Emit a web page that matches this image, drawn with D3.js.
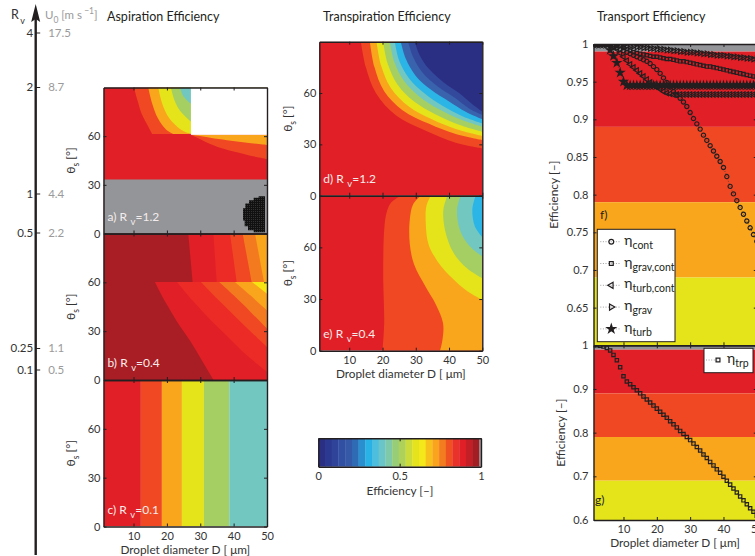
<!DOCTYPE html>
<html><head><meta charset="utf-8">
<script src="https://cdn.jsdelivr.net/npm/d3@7"></script>
<style>
body{margin:0;background:#fff;}
svg{display:block;font-family:Lato,"Open Sans",sans-serif;}
</style></head><body>
<svg id="c" width="755" height="556"></svg>
<script>
// ---------- data ----------
const diameters = [1,2,3,4,5,6,7,8,9,10,11,12,13,14,15,16,17,18,19,20,21,22,23,24,25,26,27,28,29,30,31,32,33,34,35,36,37,38,39,40,41,42,43,44,45,46,47,48,49,50];
const etaCont = [1,1,1,1,0.999,0.998,0.997,0.995,0.993,0.991,0.989,0.987,0.985,0.983,0.981,0.979,0.977,0.974,0.970,0.966,0.961,0.955,0.949,0.943,0.937,0.932,0.928,0.923,0.917,0.909,0.901,0.894,0.887,0.879,0.872,0.865,0.858,0.851,0.844,0.836,0.824,0.811,0.801,0.792,0.783,0.774,0.765,0.756,0.747,0.738];
const etaGravCont = [1,1,1,1,1,1,0.999,0.998,0.997,0.995,0.993,0.991,0.989,0.988,0.987,0.986,0.985,0.984,0.983,0.983,0.982,0.981,0.980,0.980,0.979,0.978,0.977,0.977,0.976,0.975,0.974,0.973,0.972,0.971,0.970,0.970,0.969,0.968,0.967,0.966,0.965,0.964,0.963,0.962,0.961,0.960,0.959,0.958,0.957,0.956];
const etaTurbCont = [1,1,1,1,1,0.999,0.997,0.993,0.988,0.983,0.978,0.973,0.969,0.965,0.961,0.957,0.953,0.949,0.946,0.943,0.940,0.937,0.935,0.934,0.933,0.933,0.933,0.933,0.933,0.933,0.933,0.933,0.933,0.933,0.933,0.933,0.933,0.933,0.933,0.933,0.933,0.933,0.933,0.933,0.933,0.933,0.933,0.933,0.933,0.933];
const etaGrav = [1,1,1,1,1,1,0.999,0.999,0.998,0.998,0.997,0.997,0.997,0.996,0.996,0.995,0.995,0.994,0.994,0.993,0.993,0.993,0.992,0.992,0.991,0.991,0.990,0.990,0.989,0.989,0.989,0.988,0.988,0.987,0.987,0.986,0.986,0.985,0.985,0.985,0.984,0.984,0.983,0.983,0.982,0.982,0.981,0.981,0.980,0.980];
const etaTurb = [1,1,1,1,1,0.992,0.984,0.975,0.962,0.950,0.945,0.945,0.945,0.945,0.945,0.945,0.945,0.945,0.945,0.945,0.945,0.945,0.945,0.945,0.945,0.945,0.945,0.945,0.945,0.945,0.945,0.945,0.945,0.945,0.945,0.945,0.945,0.945,0.945,0.945,0.945,0.945,0.945,0.945,0.945,0.945,0.945,0.945,0.945,0.945];
const etaTrp = [1,1,0.999,0.997,0.994,0.988,0.978,0.966,0.950,0.929,0.917,0.911,0.904,0.897,0.890,0.883,0.876,0.869,0.862,0.855,0.848,0.841,0.834,0.826,0.819,0.812,0.804,0.797,0.790,0.783,0.775,0.767,0.759,0.750,0.742,0.733,0.725,0.716,0.708,0.699,0.690,0.681,0.672,0.663,0.654,0.645,0.636,0.627,0.619,0.610];

const diamTicks = [10,20,30,40,50];
const thetaTicks = [0,30,60];
const effTicksF = [0.65,0.7,0.75,0.8,0.85,0.9,0.95,1];
const effTicksG = [0.6,0.7,0.8,0.9,1];
const cbTicks = [0,0.5,1];

const rvTicks = [4,2,1,0.5,0.25,0.1];
const u0Labels = ['17.5','8.7','4.4','2.2','1.1','0.5'];

// efficiency classes used for the shaded backgrounds (lower, upper bound)
const classBounds = [[0.99,1.0],[0.89,0.99],[0.79,0.89],[0.69,0.79],[0.5,0.69]];

// ---------- colours ----------
const INK = '#231f20', GREY = '#939598', LAB = '#333';
const C = {
  dred:'#a91e24', red:'#e11f26', red2:'#ec2a26', orr:'#ef4823', or2:'#f47a20',
  ora:'#f9a61c', yel:'#e5e31a', yel2:'#f6e512', grn:'#a5cf62', tea:'#72c7c1',
  cya:'#2bb5e7', blu:'#3a63ad', blu2:'#334a9c', nav:'#2b2f84'
};
const classColors = [GREY, C.red, C.orr, C.ora, C.yel];
const cbColors = ['#2a2f84','#2c3990','#2f4499','#3250a2','#3558a7','#2f6bb4','#2a8fcf','#28b2e6','#4dbedd','#6ac5c8','#80c9a8','#98cd78','#aed15a','#cbdb3b','#e4e31c','#f4e81a','#f8c01c','#f9a41c','#f47c20','#ef5123','#e8322a','#e11f26','#c31f26','#a31e23'];

// ---------- contour boundaries, [D, theta] ----------
// a) aspiration, Rv = 1.2
const aBands = [
  {c:C.orr, pts:[[10.1,90],[11.2,82],[12.4,74],[14.4,66],[15.6,61.3]]},
  {c:C.ora, pts:[[14.4,90],[15.6,80],[17.3,71],[19.8,64],[22,61.3]]},
  {c:C.yel, pts:[[17.4,90],[18.6,80],[20.4,72],[23,66],[25.5,62.5],[27.2,61.5]]},
  {c:C.grn, pts:[[21.2,90],[22.3,82],[24,75.5],[27.2,69]]},
  {c:C.tea, pts:[[23.9,90],[25,84.5],[27.2,80]]},
  {c:C.orr, pts:[[27.2,60.8],[31,57],[35,53.5],[40,50.5],[45,48],[50,45.9]]},
  {c:C.ora, pts:[[27.2,60.8],[33,59],[38,57.5],[44,56],[50,54.6]]}
];
const aGreyTop = 33.3;
const aBlank = [[27.2,60.8],[50,90]];
const aBlob = [[49.2,23],[47.5,22],[46,20.5],[44.6,18.5],[43.5,15.5],[42.8,12],[42.8,8],[43.3,4.5],[44.3,2],[46,0.8],[49.4,0.8],[49.4,23]];
// b) aspiration, Rv = 0.4
const bBands = [
  {c:C.red,  pts:[[26.4,90],[27.7,60.2]]},
  {c:C.red2, pts:[[33.9,90],[34.9,60.2]]},
  {c:C.orr,  pts:[[38.9,90],[40.9,60.2]]},
  {c:C.or2,  pts:[[42.7,90],[45.4,60.2]]},
  {c:C.ora,  pts:[[46.4,90],[49.1,60.2]]},
  {c:C.red,  pts:[[16.4,60.2],[19.5,48],[23,36],[27,24],[30.5,12],[34,0]]},
  {c:C.red2, pts:[[23,60.2],[28,48],[33,37],[38.5,26],[44,15],[50,4.9]]},
  {c:C.orr,  pts:[[30.2,60.2],[35,50],[40,40],[45,30],[50,20.3]]},
  {c:C.or2,  pts:[[35.7,60.2],[40,52],[45,42],[50,31.5]]},
  {c:C.ora,  pts:[[40.4,60.2],[45,52],[50,42.8]]},
  {c:C.yel2, pts:[[45.5,60.2],[50,53]]}
];
// c) aspiration, Rv = 0.1 : class edges along D
const cEdges = [1,12.2,18.5,24.5,31.1,38.7,50];
const cColors = [C.red,C.orr,C.ora,C.yel,C.grn,C.tea];
// d) transpiration, Rv = 1.2
const dBands = [
  {c:C.orr, pts:[[13.5,90],[15,75],[18,60],[24,47],[33,38],[42,31],[50,27.7]]},
  {c:C.ora, pts:[[16.2,90],[17.6,75],[20.5,61],[26,50],[34,42],[42,36],[50,32.5]]},
  {c:C.yel, pts:[[18.2,90],[19.6,76],[22.5,63],[28,52],[35,44.5],[42,39],[50,34.9]]},
  {c:C.grn, pts:[[20.2,90],[21.6,77],[24.5,65],[29.5,55],[36,47.5],[43,41.5],[50,37.4]]},
  {c:C.tea, pts:[[22.2,90],[23.6,78],[26.5,67],[31,58],[37,50.5],[43.5,44.5],[50,40.3]]},
  {c:C.cya, pts:[[23.7,90],[25,79],[28,68.5],[32.5,60],[38,52.5],[44,46.5],[50,42.3]]},
  {c:C.blu, pts:[[25.5,90],[27,80],[30,70],[34.5,62],[40,55],[45,49],[50,44.6]]},
  {c:C.blu2,pts:[[27.7,90],[29.2,81],[32,72],[36.5,64],[41.5,57.5],[46,51],[50,47.2]]},
  {c:C.nav, pts:[[29.7,90],[31.2,82],[34,74],[38.5,66],[43,60],[47,53.5],[50,49.1]]}
];
// e) transpiration, Rv = 0.4
const eBands = [
  {c:C.orr, pts:[[25.5,90],[22.6,86],[21.2,80],[20.5,70],[20.2,45],[20.5,16],[20,0]]},
  {c:C.ora, pts:[[31.5,90],[29.2,85],[28.2,76],[28.2,62],[29.5,50],[33,37],[36,27],[38.2,16],[38,6],[37.3,0]]},
  {c:C.yel, pts:[[34.5,90],[33.2,84],[33,74],[33.8,62],[36.5,52],[41,42],[45.5,34.5],[50,29.5]]},
  {c:C.grn, pts:[[39.5,90],[38.3,82],[38.8,70],[41.3,57],[45.3,48],[50,42]]},
  {c:C.tea, pts:[[43.5,90],[42.4,82],[43.3,70],[46.3,60.5],[50,54.7]]},
  {c:C.cya, pts:[[48,90],[47,82],[47.8,72],[50,66]]}
];

// ---------- scales ----------
const svg = d3.select('#c');
const xL = d3.scaleLinear().domain([1,50]).range([103.5,267]);
const xM = d3.scaleLinear().domain([1,50]).range([319.3,482.3]);
const xR = d3.scaleLinear().domain([1,50]).range([593.5,756.8]);
const yA = d3.scaleLinear().domain([0,90]).range([233.5,87.5]);
const yB = d3.scaleLinear().domain([0,90]).range([380,233.5]);
const yC = d3.scaleLinear().domain([0,90]).range([526.5,380]);
const yD = d3.scaleLinear().domain([0,90]).range([195.7,41.7]);
const yE = d3.scaleLinear().domain([0,90]).range([350.7,195.7]);
const yF = d3.scaleLinear().domain([0.6,1]).range([345.3,44]);
const yG = d3.scaleLinear().domain([0.6,1]).range([520,345.3]);
const cbX = d3.scaleLinear().domain([0,1]).range([318.3,481]);
const rvY = d3.scaleLinear().domain([0.1,0.25,0.5,1,2,4]).range([369.5,348,232.5,193.5,87,32.5]);

let clipId = 0;
function panel(xs, ys) {
  const id = 'clip' + (clipId++);
  const [x0,x1] = xs.range(), [y0,y1] = ys.range();
  svg.append('clipPath').attr('id',id).append('rect')
    .attr('x',x0).attr('y',y1).attr('width',x1-x0).attr('height',y0-y1);
  return svg.append('g').attr('clip-path',`url(#${id})`);
}

function bandPath(xs, ys, pts) {
  const line = d3.line().x(p=>xs(p[0])).y(p=>ys(p[1])).curve(d3.curveCatmullRom.alpha(0.5));
  const first = pts[0], last = pts[pts.length-1];
  const xe = xs.domain()[1];
  return line(pts) + `L${xs(xe)},${ys(last[1])}L${xs(xe)},${ys(first[1])}Z`;
}

function fillAll(g, xs, ys, color) {
  const [x0,x1] = xs.range(), [y0,y1] = ys.range();
  g.append('rect').attr('x',x0).attr('y',y1).attr('width',x1-x0).attr('height',y0-y1).attr('fill',color);
}

function drawBands(g, xs, ys, bands) {
  g.selectAll(null).data(bands).join('path')
    .attr('d', b => bandPath(xs, ys, b.pts)).attr('fill', b => b.c);
}

// boxed axes with inward ticks on all four sides
function frame(xs, ys, xt, yt, o) {
  const [x0,x1] = xs.range(), [y0,y1] = ys.range();
  const g = svg.append('g').attr('class','frame');
  const fmtX = o.xLabels ? d3.format('d') : () => '';
  const fmtY = o.yLabels ? (o.yFmt || d3.format('d')) : () => '';
  g.append('g').attr('transform',`translate(0,${y0})`)
    .call(d3.axisBottom(xs).tickValues(xt).tickSizeInner(-3).tickSizeOuter(0).tickPadding(5.5).tickFormat(fmtX));
  g.append('g').attr('transform',`translate(0,${y1})`)
    .call(d3.axisTop(xs).tickValues(xt).tickSizeInner(-3).tickSizeOuter(0).tickFormat(''));
  g.append('g').attr('transform',`translate(${x0},0)`)
    .call(d3.axisLeft(ys).tickValues(yt).tickSizeInner(-3).tickSizeOuter(0).tickPadding(o.yPad || 3).tickFormat(fmtY));
  g.append('g').attr('transform',`translate(${x1},0)`)
    .call(d3.axisRight(ys).tickValues(yt).tickSizeInner(-3).tickSizeOuter(0).tickFormat(''));
  g.selectAll('.domain').attr('stroke',INK).attr('stroke-width',1.4);
  g.selectAll('.tick line').attr('stroke',INK).attr('stroke-width',1);
  g.selectAll('.tick text').attr('fill',LAB).attr('font-size',11);
  return g;
}

function panelLabel(xs, ys, letter, rv) {
  const t = svg.append('text').attr('x', xs.range()[0] + 4).attr('y', ys.range()[0] - 13)
    .attr('fill','#f4ecec').attr('font-size',12);
  t.append('tspan').text(letter + ') R');
  t.append('tspan').attr('dx',3.5).attr('dy',4).attr('font-size',9.5).text('v');
  t.append('tspan').attr('dy',-4).text('=' + rv);
}

function thetaLabel(x, ys) {
  const cy = (ys.range()[0] + ys.range()[1]) / 2;
  const t = svg.append('text').attr('transform',`translate(${x},${cy}) rotate(-90)`)
    .attr('text-anchor','middle').attr('fill',LAB).attr('font-size',12);
  t.append('tspan').text('θ');
  t.append('tspan').attr('dy',3.5).attr('font-size',8.5).text('s');
  t.append('tspan').attr('dy',-3.5).text(' [°]');
}

function text(x, y, s, o={}) {
  return svg.append('text').attr('x',x).attr('y',y).text(s)
    .attr('fill',o.fill || LAB).attr('font-size',o.size || 11.5)
    .attr('text-anchor',o.anchor || 'start').attr('font-weight',o.weight || 400);
}

// ---------- a) ----------
{
  const g = panel(xL, yA);
  fillAll(g, xL, yA, C.red);
  drawBands(g, xL, yA, aBands);
  g.append('rect').attr('x',xL(aBlank[0][0])).attr('y',yA(aBlank[1][1]))
    .attr('width',xL(aBlank[1][0])-xL(aBlank[0][0])).attr('height',yA(aBlank[0][1])-yA(aBlank[1][1])).attr('fill','#fff');
  g.append('rect').attr('x',xL(1)).attr('y',yA(aGreyTop))
    .attr('width',xL(50)-xL(1)).attr('height',yA(0)-yA(aGreyTop)).attr('fill',GREY);
  // stippled fill for the non-converged patch
  const pat = svg.append('defs').append('pattern').attr('id','stip').attr('patternUnits','userSpaceOnUse')
    .attr('width',2).attr('height',2);
  pat.append('rect').attr('width',2).attr('height',2).attr('fill','#111');
  pat.append('rect').attr('x',1).attr('y',1).attr('width',0.7).attr('height',0.7).attr('fill','#555');
  g.append('path').attr('d', d3.line().x(p=>xL(p[0])).y(p=>yA(p[1])).curve(d3.curveStepAfter)(aBlob) + 'Z')
    .attr('fill','url(#stip)');
}
// ---------- b) ----------
{
  const g = panel(xL, yB);
  fillAll(g, xL, yB, C.dred);
  drawBands(g, xL, yB, bBands);
}
// ---------- c) ----------
{
  const g = panel(xL, yC);
  g.selectAll(null).data(cColors).join('rect')
    .attr('x',(d,i)=>xL(cEdges[i])).attr('width',(d,i)=>xL(cEdges[i+1])-xL(cEdges[i]))
    .attr('y',yC(90)).attr('height',yC(0)-yC(90)).attr('fill',d=>d);
}
// ---------- d) ----------
{
  const g = panel(xM, yD);
  fillAll(g, xM, yD, C.red);
  drawBands(g, xM, yD, dBands);
}
// ---------- e) ----------
{
  const g = panel(xM, yE);
  fillAll(g, xM, yE, C.red);
  drawBands(g, xM, yE, eBands);
}

frame(xL, yA, diamTicks, thetaTicks, {yLabels:true});
frame(xL, yB, diamTicks, thetaTicks, {yLabels:true});
frame(xL, yC, diamTicks, thetaTicks, {yLabels:true, xLabels:true});
frame(xM, yD, diamTicks, thetaTicks, {yLabels:true});
frame(xM, yE, diamTicks, thetaTicks, {yLabels:true, xLabels:true});

panelLabel(xL, yA, 'a', '1.2');
panelLabel(xL, yB, 'b', '0.4');
panelLabel(xL, yC, 'c', '0.1');
panelLabel(xM, yD, 'd', '1.2');
panelLabel(xM, yE, 'e', '0.4');
[yA, yB, yC].forEach(ys => thetaLabel(75, ys));
[yD, yE].forEach(ys => thetaLabel(292, ys));

text(185.3, 553.6, 'Droplet diameter D [ μm]', {anchor:'middle', size:11.8});
text(400.8, 377.8, 'Droplet diameter D [ μm]', {anchor:'middle', size:11.8});

// ---------- colour bar ----------
{
  const n = cbColors.length, top = 438.3, h = 28.4;
  svg.selectAll(null).data(cbColors).join('rect')
    .attr('x',(d,i)=>cbX(i*0.99/n)).attr('width',(d,i)=>cbX((i+1)*0.99/n)-cbX(i*0.99/n)+0.3)
    .attr('y',top).attr('height',h).attr('fill',d=>d);
  svg.append('rect').attr('x',cbX(0.99)).attr('width',cbX(1)-cbX(0.99)).attr('y',top).attr('height',h).attr('fill',GREY);
  const ys = d3.scaleLinear().domain([0,1]).range([top+h, top]);
  const g = svg.append('g');
  g.append('g').attr('transform',`translate(0,${top+h})`)
    .call(d3.axisBottom(cbX).tickValues(cbTicks).tickSizeInner(-3).tickSizeOuter(0).tickPadding(5.5).tickFormat(d3.format('')));
  g.append('g').attr('transform',`translate(0,${top})`)
    .call(d3.axisTop(cbX).tickValues(cbTicks).tickSizeInner(-3).tickSizeOuter(0).tickFormat(''));
  g.append('g').attr('transform',`translate(${cbX(0)},0)`).call(d3.axisLeft(ys).tickValues([]).tickSizeOuter(0));
  g.append('g').attr('transform',`translate(${cbX(1)},0)`).call(d3.axisRight(ys).tickValues([]).tickSizeOuter(0));
  g.selectAll('.domain').attr('stroke',INK).attr('stroke-width',1.4);
  g.selectAll('.tick line').attr('stroke',INK);
  g.selectAll('.tick text').attr('fill',LAB).attr('font-size',11);
  text(400, 495, 'Efficiency [–]', {anchor:'middle', size:11.8});
}

// ---------- f), g) transport ----------
const seriesF = [
  {label:'cont',      vals:etaCont,     sym:d3.symbolCircle,   rot:0,   fill:'none', size:14},
  {label:'grav,cont', vals:etaGravCont, sym:d3.symbolSquare,   rot:0,   fill:'none', size:11},
  {label:'turb,cont', vals:etaTurbCont, sym:d3.symbolTriangle, rot:-90, fill:'none', size:12},
  {label:'grav',      vals:etaGrav,     sym:d3.symbolTriangle, rot:90,  fill:'none', size:12},
  {label:'turb',      vals:etaTurb,     sym:d3.symbolStar,     rot:0,   fill:INK,    size:18}
];
const seriesG = [{label:'trp', vals:etaTrp, sym:d3.symbolSquare, rot:0, fill:'none', size:11}];

function transportPanel(ys, series) {
  const g = panel(xR, ys);
  g.selectAll(null).data(classBounds).join('rect')
    .attr('x',xR(1)).attr('width',xR(50)-xR(1))
    .attr('y',d=>ys(Math.min(d[1],1))).attr('height',d=>ys(Math.max(d[0],0.6))-ys(Math.min(d[1],1)))
    .attr('fill',(d,i)=>classColors[i]);
  series.forEach(s => {
    const pts = diameters.map((D,i)=>[D, s.vals[i]]);
    g.append('path').attr('d', d3.line().x(p=>xR(p[0])).y(p=>ys(p[1]))(pts))
      .attr('fill','none').attr('stroke','#444').attr('stroke-width',0.8).attr('stroke-dasharray','1 1.6');
  });
  series.forEach(s => {
    const sym = d3.symbol().type(s.sym).size(s.size);
    g.selectAll(null).data(diameters.map((D,i)=>[D, s.vals[i]])).join('path')
      .attr('d', sym).attr('transform', p=>`translate(${xR(p[0])},${ys(p[1])}) rotate(${s.rot})`)
      .attr('fill', s.fill).attr('stroke', INK).attr('stroke-width', 1.2);
  });
  return g;
}
transportPanel(yF, seriesF);
transportPanel(yG, seriesG);
const fmtEff = d => String(+d.toFixed(2));
frame(xR, yF, diamTicks, effTicksF, {yLabels:true, yFmt:fmtEff, yPad:5});
frame(xR, yG, diamTicks, effTicksG, {yLabels:true, yFmt:fmtEff, yPad:5, xLabels:true});

function effLabel(x, ys) {
  const cy = (ys.range()[0] + ys.range()[1]) / 2;
  svg.append('text').attr('transform',`translate(${x},${cy}) rotate(-90)`)
    .attr('text-anchor','middle').attr('fill',LAB).attr('font-size',12).text('Efficiency [–]');
}
effLabel(557.5, yF);
effLabel(564.5, yG);
text(675, 547, 'Droplet diameter D [ μm]', {anchor:'middle', size:11.8});
text(600, 219, 'f)', {fill:INK, size:12});
text(595, 504, 'g)', {fill:INK, size:12});

function legend(x, y, w, h, series, rowH, first) {
  const g = svg.append('g');
  g.append('rect').attr('x',x).attr('y',y).attr('width',w).attr('height',h)
    .attr('fill','#fff').attr('stroke',INK).attr('stroke-width',1);
  series.forEach((s,i) => {
    const cy = y + first + i*rowH;
    g.append('line').attr('x1',x+3).attr('x2',x+23).attr('y1',cy).attr('y2',cy)
      .attr('stroke','#777').attr('stroke-width',0.7).attr('stroke-dasharray','1 1.6');
    g.append('path').attr('d', d3.symbol().type(s.sym).size(s.size + 4)())
      .attr('transform',`translate(${x+14},${cy}) rotate(${s.rot})`)
      .attr('fill',s.fill).attr('stroke',INK).attr('stroke-width',1.2);
    const t = g.append('text').attr('x',x+27).attr('y',cy+3).attr('fill',INK).attr('font-size',14);
    t.append('tspan').text('η');
    t.append('tspan').attr('dy',4).attr('font-size',10.5).text(s.label);
  });
}
legend(597.3, 229.3, 77.7, 112.4, seriesF, 21.8, 12.4);
{
  const s = seriesG[0];
  const g = svg.append('g');
  g.append('rect').attr('x',704).attr('y',348.3).attr('width',49).attr('height',24.4)
    .attr('fill','#fff').attr('stroke',INK).attr('stroke-width',1);
  g.append('line').attr('x1',706).attr('x2',718).attr('y1',360).attr('y2',360)
    .attr('stroke','#777').attr('stroke-width',0.7).attr('stroke-dasharray','1 1.6');
  g.append('path').attr('d', d3.symbol().type(s.sym).size(s.size + 4)()).attr('transform','translate(718,360)')
    .attr('fill','none').attr('stroke',INK).attr('stroke-width',1.2);
  const t = g.append('text').attr('x',727).attr('y',363).attr('fill',INK).attr('font-size',14);
  t.append('tspan').text('η');
  t.append('tspan').attr('dy',4).attr('font-size',10.5).text(s.label);
}

// ---------- titles ----------
text(107, 21, 'Aspiration Efficiency', {fill:INK, size:12.5});
text(323, 21, 'Transpiration Efficiency', {fill:INK, size:12.5});
text(597, 21, 'Transport Efficiency', {fill:INK, size:12.5});

// ---------- Rv / U0 scale ----------
{
  const ax = 35.7;
  svg.append('line').attr('x1',ax).attr('x2',ax).attr('y1',555).attr('y2',16)
    .attr('stroke',INK).attr('stroke-width',2.4);
  svg.append('path').attr('d',`M${ax},4L${ax+4.5},22L${ax},19L${ax-4.5},22Z`).attr('fill',INK);
  const g = svg.append('g').attr('transform',`translate(${ax},0)`);
  g.append('g').call(d3.axisRight(rvY).tickValues(rvTicks).tickSize(4.5).tickPadding(8)
      .tickFormat((d,i)=>u0Labels[i]))
    .call(a => a.select('.domain').remove())
    .call(a => a.selectAll('.tick text').attr('fill','#9a9a9a').attr('font-size',11.5))
    .call(a => a.selectAll('.tick line').attr('stroke',INK).attr('stroke-width',1));
  g.append('g').call(d3.axisLeft(rvY).tickValues(rvTicks).tickSize(0).tickPadding(2.5)
      .tickFormat(d=>String(d)))
    .call(a => a.select('.domain').remove())
    .call(a => a.selectAll('.tick text').attr('fill',LAB).attr('font-size',11.5));
  const r = svg.append('text').attr('x',11).attr('y',19).attr('fill',LAB).attr('font-size',12.5);
  r.append('tspan').text('R');
  r.append('tspan').attr('dy',5).attr('dx',1.5).attr('font-size',9).text('v');
  const u = svg.append('text').attr('x',45).attr('y',19).attr('fill','#9a9a9a').attr('font-size',11.5);
  u.append('tspan').text('U');
  u.append('tspan').attr('dy',4).attr('font-size',8.5).text('0');
  u.append('tspan').attr('dy',-4).text(' [m s');
  u.append('tspan').attr('dy',-5).attr('font-size',8.5).text(' −1');
  u.append('tspan').attr('dy',5).text(']');
}
svg.selectAll('text').attr('font-family','Lato,"Open Sans",sans-serif');
</script></body></html>
